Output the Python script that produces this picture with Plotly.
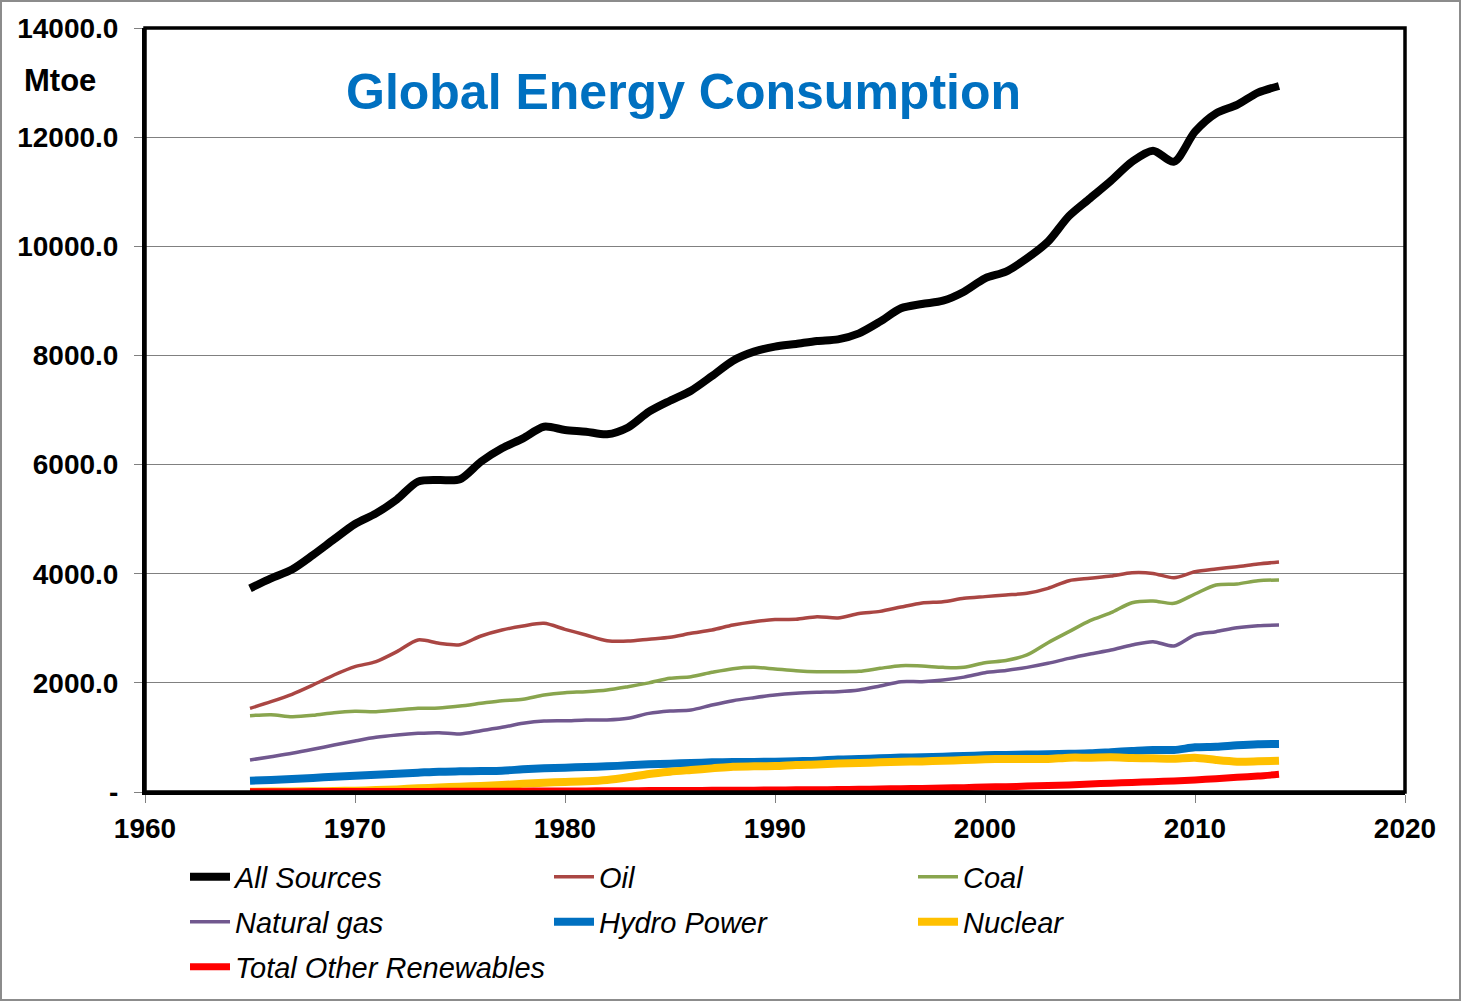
import plotly.graph_objects as go

years = list(range(1965, 2015))

all_sources = [3732, 3915, 4078, 4343, 4630, 4911, 5106, 5363, 5687, 5717,
               5730, 6054, 6298, 6481, 6694, 6634, 6603, 6555, 6680, 6969,
               7170, 7354, 7623, 7904, 8069, 8161, 8210, 8265, 8295, 8405,
               8619, 8864, 8943, 9003, 9168, 9413, 9535, 9780, 10085, 10555,
               10879, 11202, 11550, 11752, 11550, 12100, 12436, 12590, 12815, 12937]

oil = [1533, 1655, 1790, 1961, 2144, 2297, 2389, 2572, 2786, 2725,
       2700, 2859, 2969, 3042, 3091, 2981, 2877, 2773, 2765, 2800,
       2835, 2908, 2969, 3060, 3121, 3160, 3164, 3213, 3190, 3270,
       3310, 3390, 3465, 3488, 3549, 3580, 3610, 3641, 3732, 3872,
       3916, 3958, 4018, 4006, 3927, 4037, 4087, 4129, 4178, 4215]

coal = [1399, 1417, 1380, 1405, 1454, 1478, 1472, 1503, 1533, 1539,
        1576, 1625, 1673, 1698, 1777, 1820, 1838, 1869, 1930, 2000,
        2083, 2113, 2193, 2260, 2284, 2254, 2223, 2205, 2205, 2211,
        2266, 2315, 2309, 2284, 2284, 2370, 2410, 2511, 2736, 2938,
        3140, 3286, 3469, 3500, 3458, 3628, 3793, 3812, 3872, 3885]

natural_gas = [586, 647, 709, 782, 861, 935, 1002, 1045, 1075, 1087,
               1063, 1124, 1185, 1258, 1300, 1305, 1319, 1319, 1350, 1441,
               1484, 1503, 1594, 1673, 1728, 1777, 1808, 1826, 1838, 1869,
               1943, 2022, 2022, 2052, 2105, 2187, 2228, 2284, 2358, 2449,
               2529, 2602, 2694, 2755, 2675, 2877, 2938, 3011, 3048, 3060]

hydro = [208, 220, 238, 257, 281, 299, 318, 336, 354, 372,
         379, 385, 391, 415, 433, 446, 458, 470, 488, 507,
         519, 531, 543, 550, 552, 555, 565, 574, 595, 605,
         617, 630, 638, 647, 660, 672, 680, 685, 691, 700,
         709, 730, 751, 770, 770, 819, 830, 856, 874, 880]

nuclear = [6, 8, 10, 14, 18, 25, 35, 48, 67, 82,
           98, 112, 128, 150, 171, 183, 195, 220, 269, 330,
           372, 403, 433, 464, 470, 475, 495, 505, 520, 530,
           543, 555, 560, 574, 585, 599, 605, 607, 605, 629,
           629, 635, 623, 617, 611, 629, 586, 556, 562, 574]

renewables = [5, 6, 6, 7, 8, 8, 9, 10, 11, 12,
              13, 14, 15, 16, 17, 18, 20, 22, 24, 26,
              28, 29, 30, 32, 34, 37, 39, 42, 45, 50,
              55, 60, 66, 72, 80, 90, 98, 108, 118, 130,
              147, 160, 175, 190, 202, 220, 244, 269, 293, 324]

series_names = ["All Sources", "Oil", "Coal", "Natural gas", "Hydro Power",
                "Nuclear", "Total Other Renewables"]
series_values = [all_sources, oil, coal, natural_gas, hydro, nuclear, renewables]
series_colors = ["#000000", "#AA4643", "#89A54E", "#71588F", "#0070C0",
                 "#FFC000", "#FF0000"]
series_widths = [8, 3.5, 3.5, 3.5, 8, 8, 7]
series_legend = ["legend", "legend", "legend", "legend2", "legend2",
                 "legend2", "legend3"]

y_tickvals = [0, 2000, 4000, 6000, 8000, 10000, 12000, 14000]
y_ticktext = ["-", "2000.0", "4000.0", "6000.0", "8000.0", "10000.0",
              "12000.0", "14000.0"]
x_tickvals = [1960, 1970, 1980, 1990, 2000, 2010, 2020]

FONT = "Liberation Sans, Arial, sans-serif"

fig = go.Figure()
for name, vals, col, w, lg in zip(series_names, series_values, series_colors,
                                  series_widths, series_legend):
    fig.add_trace(go.Scatter(
        x=years, y=vals, name=name, mode="lines",
        line=dict(color=col, width=w, shape="spline", smoothing=0.8),
        legend=lg,
    ))

W, H = 1461, 1001
L, R, T, B = 145, 56, 28, 209
pw, ph = W - L - R, H - T - B


def px_x(px):
    return (px - L) / pw


def px_y(py):
    return 1 - (py - T) / ph


legend_font = dict(family=FONT, size=29, color="black", style="italic")
leg_common = dict(orientation="h", font=legend_font, bgcolor="rgba(0,0,0,0)",
                  entrywidth=309, entrywidthmode="pixels", xanchor="left",
                  yanchor="middle", itemwidth=40, tracegroupgap=0)

fig.update_layout(
    width=W, height=H,
    margin=dict(l=L, r=R, t=T, b=B, autoexpand=False),
    paper_bgcolor="white", plot_bgcolor="white",
    font=dict(family=FONT, color="black"),
    showlegend=True,
    legend=dict(x=px_x(185), y=px_y(877), **leg_common),
    legend2=dict(x=px_x(185), y=px_y(922), **leg_common),
    legend3=dict(x=px_x(185), y=px_y(967), **leg_common),
    xaxis=dict(range=[1960, 2020], tickvals=x_tickvals, showgrid=False,
               zeroline=False, showline=True, linecolor="black", linewidth=3,
               ticks="outside", ticklen=8, tickcolor="#808080",
               tickfont=dict(family=FONT, size=28, color="black", weight="bold"),
               ticklabelstandoff=1),
    yaxis=dict(range=[0, 14000], tickvals=y_tickvals, ticktext=y_ticktext,
               showgrid=True, gridcolor="#808080", gridwidth=1,
               zeroline=False, showline=True, linecolor="black", linewidth=3,
               ticks="outside", ticklen=8, tickcolor="#808080",
               tickfont=dict(family=FONT, size=28, color="black", weight="bold"),
               ticklabelstandoff=10),
    annotations=[
        dict(text="Global Energy Consumption", x=px_x(683), y=px_y(92),
             xref="paper", yref="paper", showarrow=False,
             xanchor="center", yanchor="middle",
             font=dict(family=FONT, size=50, color="#0070C0", weight="bold")),
        dict(text="Mtoe", x=px_x(60), y=px_y(80), xref="paper", yref="paper",
             showarrow=False, xanchor="center", yanchor="middle",
             font=dict(family=FONT, size=31, color="black", weight="bold")),
    ],
    shapes=[
        dict(type="rect", xref="paper", yref="paper", x0=0, x1=1, y0=0, y1=1,
             line=dict(color="black", width=3.5), layer="above"),
        dict(type="rect", xref="paper", yref="paper",
             x0=px_x(1), x1=px_x(W - 1), y0=px_y(H - 1), y1=px_y(1),
             line=dict(color="#8C8C8C", width=2), layer="above"),
    ],
)

fig.write_html(
    "out.html",
    config={"displayModeBar": False},
    post_script="document.body.style.margin='0';document.body.style.overflow='hidden';",
)
